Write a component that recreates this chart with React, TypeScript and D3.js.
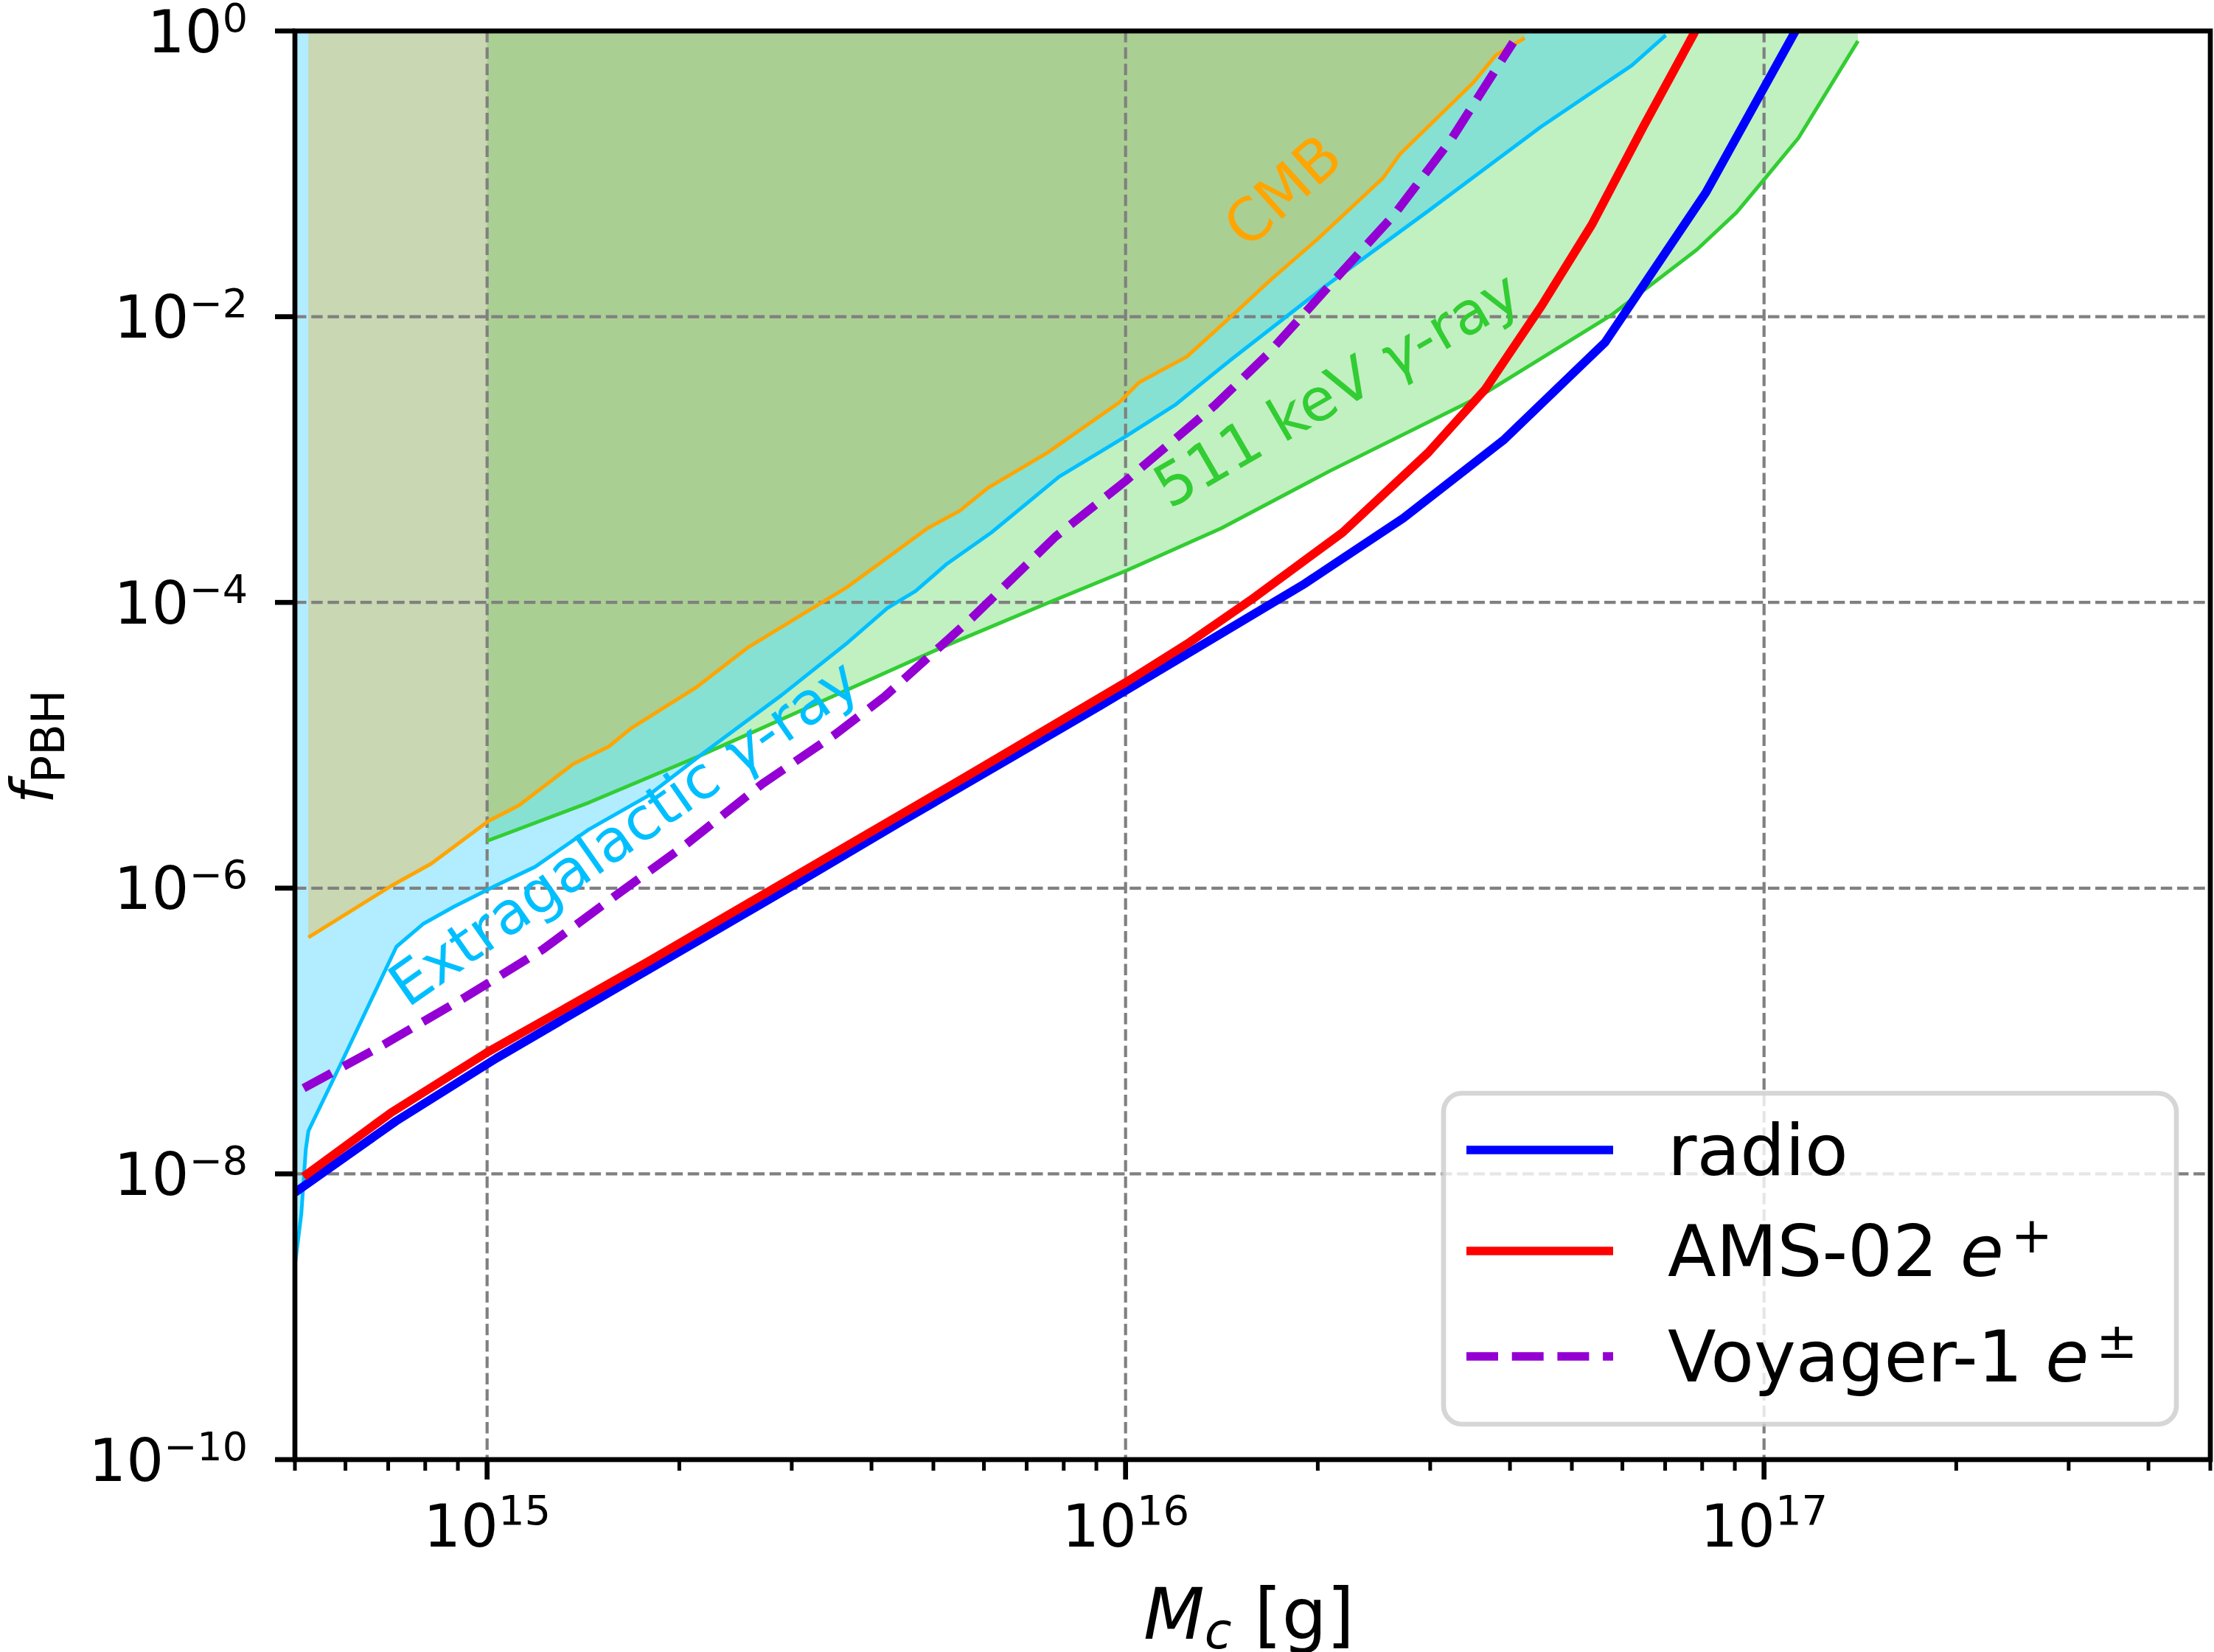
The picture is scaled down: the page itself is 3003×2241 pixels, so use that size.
import React from 'react';
import * as d3 from 'd3';

// ---------- data (mass in g, f_PBH) ----------
const radioMass = [5.0e14, 7.2e14, 1.035e15, 1.486e15, 2.138e15, 3.076e15, 4.426e15, 6.368e15, 9.162e15, 1.315e16, 1.892e16, 2.723e16, 3.917e16, 5.636e16, 8.11e16, 1.12e17];
const radioF = [7.41e-9, 2.34e-8, 6.46e-8, 1.66e-7, 4.27e-7, 1.1e-6, 2.88e-6, 7.41e-6, 1.91e-5, 5.01e-5, 1.32e-4, 3.89e-4, 1.38e-3, 6.61e-3, 7.41e-2, 1.0];

const amsMass = [5.16e14, 7.08e14, 1.0e15, 1.778e15, 3.162e15, 5.623e15, 1.0e16, 1.259e16, 1.585e16, 2.188e16, 2.979e16, 3.656e16, 4.487e16, 5.383e16, 6.471e16, 7.762e16, 7.8e16];
const amsF = [9.55e-9, 2.69e-8, 7.08e-8, 3.02e-7, 1.35e-6, 6.03e-6, 2.75e-5, 5.25e-5, 1.07e-4, 3.09e-4, 1.12e-3, 3.09e-3, 1.2e-2, 4.47e-2, 0.214, 0.955, 1.0];

const voyagerMass = [5.16e14, 6.92e14, 9.27e14, 1.222e15, 1.592e15, 2.042e15, 2.698e15, 3.516e15, 4.198e15, 5.741e15, 7.762e15, 1.0e16, 1.38e16, 1.663e16, 2.158e16, 2.63e16, 3.236e16, 4.046e16];
const voyagerF = [3.98e-8, 8.13e-8, 1.74e-7, 3.72e-7, 8.91e-7, 2.0e-6, 5.37e-6, 1.2e-5, 2.2e-5, 7.76e-5, 2.88e-4, 7.08e-4, 2.4e-3, 5.37e-3, 1.95e-2, 5.13e-2, 0.174, 0.832];

const kevMass = [1.0e15, 1.445e15, 2.138e15, 2.884e15, 3.715e15, 5.248e15, 7.586e15, 1.0e16, 1.413e16, 2.089e16, 3.548e16, 5.754e16, 7.852e16, 9.057e16, 1.0e17, 1.132e17, 1.403e17];
const kevF = [2.14e-6, 3.98e-6, 8.32e-6, 1.51e-5, 2.51e-5, 5.01e-5, 1.0e-4, 1.66e-4, 3.31e-4, 8.32e-4, 2.69e-3, 1.02e-2, 2.95e-2, 5.37e-2, 9.12e-2, 0.178, 0.851];

const egMass = [5.0e14, 5.117e14, 5.2e14, 5.25e14, 5.93e14, 7.21e14, 7.94e14, 8.87e14, 1.035e15, 1.189e15, 1.442e15, 1.778e15, 2.188e15, 2.891e15, 3.673e15, 4.236e15, 4.688e15, 5.248e15, 6.166e15, 7.87e15, 1.0e16, 1.194e16, 1.462e16, 2.065e16, 2.979e16, 4.477e16, 6.209e16, 7.015e16];
const egF = [2.29e-9, 5.25e-9, 1.48e-8, 2.0e-8, 6.17e-8, 3.89e-7, 5.62e-7, 7.41e-7, 1.05e-6, 1.41e-6, 2.57e-6, 4.37e-6, 8.91e-6, 2.24e-5, 5.25e-5, 9.12e-5, 1.2e-4, 1.86e-4, 3.09e-4, 7.59e-4, 1.45e-3, 2.4e-3, 5.0e-3, 1.66e-2, 5.5e-2, 0.214, 0.575, 0.933];

const cmbMass = [5.25e14, 7.11e14, 8.17e14, 1.005e15, 1.122e15, 1.365e15, 1.549e15, 1.683e15, 2.133e15, 2.553e15, 3.673e15, 4.898e15, 5.495e15, 6.081e15, 7.551e15, 9.772e15, 1.05e16, 1.247e16, 1.462e16, 1.69e16, 1.995e16, 2.529e16, 2.692e16, 3.508e16, 3.802e16, 4.217e16];
const cmbF = [4.52e-7, 1.05e-6, 1.48e-6, 2.95e-6, 3.8e-6, 7.41e-6, 9.77e-6, 1.32e-5, 2.57e-5, 4.79e-5, 1.29e-4, 3.31e-4, 4.37e-4, 6.31e-4, 1.12e-3, 2.51e-3, 3.47e-3, 5.25e-3, 1.0e-2, 1.82e-2, 3.47e-2, 9.33e-2, 0.138, 0.437, 0.676, 0.891];

const xMajorTicks = [1e15, 1e16, 1e17];
const xTickExponents = ['15', '16', '17'];
const yMajorTicks = [1, 1e-2, 1e-4, 1e-6, 1e-8, 1e-10];
const yTickExponents = ['0', '\u22122', '\u22124', '\u22126', '\u22128', '\u221210'];
const legendLabels = ['radio', 'AMS-02', 'Voyager-1'];
const legendSups = ['', '+', '\u00b1'];

// ---------- layout ----------
const W = 3003;
const H = 2241;
const X0 = 400;
const X1 = 2998;
const Y0 = 42;
const Y1 = 1980;
const FONT = '"DejaVu Sans", Verdana, sans-serif';

type P = [number, number];
const zip = (m: number[], f: number[]): P[] => m.map((v, i) => [v, f[i]] as P);

export default function App() {
  const x = d3.scaleLog().domain([5e14, 5e17]).range([X0, X1]);
  const y = d3.scaleLog().domain([1e-10, 1]).range([Y1, Y0]);
  const line = d3.line<P>().x(d => x(d[0])).y(d => y(d[1]));
  const area = d3.area<P>().x(d => x(d[0])).y0(y(1)).y1(d => y(d[1]));

  const xMinor = x.ticks().filter(t => !xMajorTicks.some(m => Math.abs(m - t) / m < 1e-6));
  const gridY = yMajorTicks.filter(t => t < 1 && t > 1e-10);

  const legendColors = ['blue', 'red', 'darkviolet'];
  const legendLineY = [1560, 1697, 1840];
  const legendTextY = [1594, 1731, 1874];

  return (
    <div style={{ position: 'absolute', left: 0, top: 0 }}>
      <svg width={W} height={H} viewBox={`0 0 ${W} ${H}`} style={{ display: 'block', background: 'white' }} fontFamily={FONT}>
        <defs>
          <clipPath id="plotclip">
            <rect x={X0} y={Y0} width={X1 - X0} height={Y1 - Y0} />
          </clipPath>
        </defs>
        <rect x={0} y={0} width={W} height={H} fill="white" />
        <g clipPath="url(#plotclip)">
          {/* fills */}
          <path d={area(zip(kevMass, kevF)) || ''} fill="limegreen" fillOpacity={0.3} />
          <path d={area(zip(egMass, egF)) || ''} fill="deepskyblue" fillOpacity={0.3} />
          <path d={area(zip(cmbMass, cmbF)) || ''} fill="orange" fillOpacity={0.3} />
          {/* grid */}
          {xMajorTicks.map((t, i) => (
            <line key={'gx' + i} x1={x(t)} x2={x(t)} y1={Y0} y2={Y1} stroke="#808080" strokeWidth={4.2} strokeDasharray="15.5 6.7" />
          ))}
          {gridY.map((t, i) => (
            <line key={'gy' + i} x1={X0} x2={X1} y1={y(t)} y2={y(t)} stroke="#808080" strokeWidth={4.2} strokeDasharray="15.5 6.7" />
          ))}
          {/* thin boundary lines */}
          <path d={line(zip(kevMass, kevF)) || ''} fill="none" stroke="limegreen" strokeWidth={5} strokeLinejoin="round" />
          <path d={line(zip(egMass, egF)) || ''} fill="none" stroke="deepskyblue" strokeWidth={5} strokeLinejoin="round" />
          <path d={line(zip(cmbMass, cmbF)) || ''} fill="none" stroke="orange" strokeWidth={5} strokeLinejoin="round" />
          {/* main constraints */}
          <path d={line(zip(radioMass, radioF)) || ''} fill="none" stroke="blue" strokeWidth={11.7} strokeLinejoin="round" />
          <path d={line(zip(amsMass, amsF)) || ''} fill="none" stroke="red" strokeWidth={11.7} strokeLinejoin="round" />
          <path d={line(zip(voyagerMass, voyagerF)) || ''} fill="none" stroke="darkviolet" strokeWidth={11.7} strokeDasharray="43 18.7" strokeLinejoin="round" />
        </g>

        {/* region labels */}
        <text x={1739} y={258} fontSize={80} fill="orange" textAnchor="middle" dy="0.36em" transform="rotate(-42 1739 258)">CMB</text>
        <text x={848} y={1132} fontSize={80} fill="deepskyblue" textAnchor="middle" dy="0.3em" transform="rotate(-35 848 1132)">
          Extragalactic <tspan fontStyle="italic">γ</tspan>-ray
        </text>
        <text x={1815} y={531} fontSize={80} fill="limegreen" textAnchor="middle" dy="0.3em" transform="rotate(-30 1815 531)">
          511 keV <tspan fontStyle="italic">γ</tspan>-ray
        </text>

        {/* spines */}
        <rect x={X0} y={Y0} width={X1 - X0} height={Y1 - Y0} fill="none" stroke="black" strokeWidth={6.7} />

        {/* x ticks */}
        {xMajorTicks.map((t, i) => (
          <g key={'xt' + i}>
            <line x1={x(t)} x2={x(t)} y1={Y1} y2={Y1 + 27} stroke="black" strokeWidth={6.7} />
            <text x={x(t)} y={2098} fontSize={80} textAnchor="middle" fill="black">
              10<tspan fontSize={56} dy={-30}>{xTickExponents[i]}</tspan>
            </text>
          </g>
        ))}
        {xMinor.map((t, i) => (
          <line key={'xm' + i} x1={x(t)} x2={x(t)} y1={Y1} y2={Y1 + 15} stroke="black" strokeWidth={5} />
        ))}
        {/* y ticks */}
        {yMajorTicks.map((t, i) => (
          <g key={'yt' + i}>
            <line x1={X0 - 27} x2={X0} y1={y(t)} y2={y(t)} stroke="black" strokeWidth={6.7} />
            <text x={336} y={y(t) + 28.5} fontSize={80} textAnchor="end" fill="black">
              10<tspan fontSize={54} dy={-28}>{yTickExponents[i]}</tspan>
            </text>
          </g>
        ))}

        {/* axis labels */}
        <text x={1694} y={2223} fontSize={96} textAnchor="middle" fill="black">
          <tspan fontStyle="italic">M</tspan>
          <tspan fontStyle="italic" fontSize={67} dy={13}>c</tspan>
          <tspan dy={-13}>{'\u00a0[g]'}</tspan>
        </text>
        <text x={72} y={1013} fontSize={80} textAnchor="middle" fill="black" transform="rotate(-90 72 1013)">
          <tspan fontStyle="italic">f</tspan>
          <tspan fontSize={62} dy={15}>PBH</tspan>
        </text>

        {/* legend */}
        <rect x={1958} y={1483} width={994} height={449} rx={25} ry={25} fill="white" fillOpacity={0.8} stroke="#cccccc" strokeOpacity={0.8} strokeWidth={6.7} />
        {legendLabels.map((lab, i) => (
          <g key={'lg' + i}>
            <line x1={1989} x2={2188} y1={legendLineY[i]} y2={legendLineY[i]} stroke={legendColors[i]} strokeWidth={11.7}
              strokeDasharray={i === 2 ? '43 18.7' : undefined} />
            <text x={2262} y={legendTextY[i]} fontSize={96} fill="black">
              {lab}
              {legendSups[i] ? (
                <>
                  <tspan fontStyle="italic">{'\u00a0e'}</tspan>
                  <tspan fontSize={67} dx={10} dy={-32}>{legendSups[i]}</tspan>
                </>
              ) : null}
            </text>
          </g>
        ))}
      </svg>
    </div>
  );
}
